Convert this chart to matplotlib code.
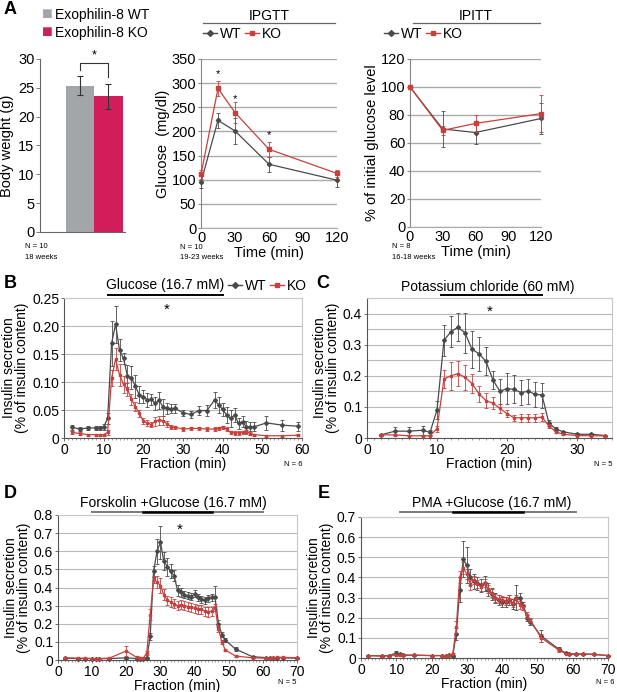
import numpy as np
import matplotlib
matplotlib.use('Agg')
import matplotlib.pyplot as plt
from matplotlib.lines import Line2D
from matplotlib.ticker import MultipleLocator

plt.rcParams['font.family'] = ['Liberation Sans', 'DejaVu Sans']

# ---------------- data ----------------
# A: body weight
bw_groups = ['Exophilin-8 WT', 'Exophilin-8 KO']
bw_mean = [25.4, 23.5]
bw_err = [1.7, 2.2]

# A: IPGTT
gtt_t = [0, 15, 30, 60, 120]
gtt_wt = [95, 223, 201, 132, 99]
gtt_wt_err = [13, 15, 26, 15, 15]
gtt_ko = [111, 289, 239, 163, 113]
gtt_ko_err = [10, 16, 22, 15, 8]
gtt_star_t = [15, 30, 60]
gtt_star_y = [318, 268, 192]

# A: IPITT
itt_t = [0, 30, 60, 120]
itt_wt = [100, 70, 67.5, 77.5]
itt_wt_err = [0, 13, 8, 11]
itt_ko = [100, 69, 74, 81]
itt_ko_err = [0, 3, 6, 13]

# B: glucose
B_x = [2, 4, 6, 8, 9, 10, 11, 12, 13, 14, 15, 16, 17, 18, 19, 20, 21, 22, 23, 24, 25,
       26, 27, 28, 30, 32, 34, 36, 38, 39, 40, 41, 42, 43, 44, 45, 46, 47, 48, 51, 55, 59]
B_wt = [0.019, 0.016, 0.018, 0.018, 0.018, 0.02, 0.035, 0.169, 0.203, 0.157, 0.142, 0.111,
        0.108, 0.092, 0.077, 0.074, 0.068, 0.069, 0.062, 0.067, 0.055, 0.053, 0.052, 0.053,
        0.045, 0.042, 0.049, 0.049, 0.068, 0.059, 0.051, 0.041, 0.035, 0.041, 0.026, 0.029,
        0.020, 0.020, 0.020, 0.027, 0.023, 0.021]
B_wt_err = [0.005, 0.004, 0.004, 0.004, 0.004, 0.005, 0.01, 0.04, 0.033, 0.02, 0.01, 0.02,
            0.02, 0.02, 0.015, 0.012, 0.012, 0.01, 0.012, 0.015, 0.015, 0.01, 0.008, 0.008,
            0.005, 0.007, 0.008, 0.01, 0.015, 0.015, 0.012, 0.015, 0.015, 0.012, 0.01, 0.01,
            0.01, 0.008, 0.008, 0.013, 0.01, 0.008]
B_ko = [0.010, 0.008, 0.006, 0.006, 0.006, 0.006, 0.010, 0.107, 0.141, 0.113, 0.096, 0.087,
        0.069, 0.056, 0.044, 0.030, 0.027, 0.024, 0.030, 0.032, 0.031, 0.025, 0.020, 0.019,
        0.016, 0.017, 0.017, 0.016, 0.016, 0.017, 0.019, 0.016, 0.010, 0.009, 0.009, 0.010,
        0.011, 0.008, 0.006, 0.004, 0.004, 0.005]
B_ko_err = [0.003, 0.002, 0.002, 0.002, 0.002, 0.002, 0.004, 0.015, 0.02, 0.02, 0.015, 0.012,
            0.01, 0.008, 0.006, 0.005, 0.005, 0.005, 0.008, 0.008, 0.008, 0.005, 0.004, 0.003,
            0.003, 0.003, 0.003, 0.003, 0.003, 0.003, 0.003, 0.003, 0.003, 0.003, 0.003, 0.003,
            0.004, 0.003, 0.002, 0.002, 0.002, 0.002]

# C: KCl
C_x = [2, 4, 6, 8, 9, 10, 11, 12, 13, 14, 15, 16, 17, 18, 19, 20, 21, 22, 23, 24, 25,
       26, 27, 28, 30, 32, 34]
C_wt = [0.01, 0.022, 0.022, 0.025, 0.018, 0.09, 0.314, 0.342, 0.356, 0.338, 0.285, 0.271,
        0.246, 0.186, 0.150, 0.159, 0.156, 0.146, 0.150, 0.141, 0.138, 0.047, 0.029, 0.020,
        0.012, 0.012, 0.008]
C_wt_err = [0.003, 0.012, 0.012, 0.015, 0.008, 0.03, 0.05, 0.05, 0.045, 0.065, 0.06, 0.055,
            0.045, 0.03, 0.04, 0.05, 0.045, 0.04, 0.04, 0.04, 0.04, 0.01, 0.006, 0.004,
            0.003, 0.003, 0.002]
C_ko = [0.01, 0.01, 0.007, 0.007, 0.007, 0.03, 0.19, 0.20, 0.207, 0.195, 0.175, 0.142,
        0.12, 0.112, 0.095, 0.078, 0.065, 0.065, 0.065, 0.065, 0.067, 0.038, 0.02, 0.012,
        0.008, 0.007, 0.007]
C_ko_err = [0.002, 0.002, 0.002, 0.002, 0.002, 0.01, 0.03, 0.045, 0.04, 0.04, 0.03, 0.025,
            0.025, 0.02, 0.015, 0.012, 0.01, 0.012, 0.012, 0.012, 0.012, 0.006, 0.004, 0.003,
            0.002, 0.002, 0.002]

# D: forskolin + glucose
D_x = [2, 6, 8, 10, 11, 12, 15, 20, 23, 24, 25, 26, 27, 28, 29, 30, 31, 32, 33, 34, 35, 36,
       37, 38, 39, 40, 41, 42, 43, 44, 45, 46, 47, 48, 49, 52, 57, 61, 62, 63, 64, 66, 70]
D_wt = [0.01, 0.008, 0.008, 0.008, 0.008, 0.008, 0.008, 0.012, 0.008, 0.006, 0.006,
        0.01, 0.13, 0.49, 0.60, 0.65, 0.545, 0.515, 0.49, 0.465, 0.385, 0.375, 0.36, 0.355,
        0.35, 0.365, 0.345, 0.335, 0.33, 0.34, 0.345, 0.345, 0.2, 0.14, 0.11,
        0.06, 0.018, 0.013, 0.012, 0.012, 0.012, 0.012, 0.01]
D_wt_err = [0.003, 0.003, 0.003, 0.003, 0.003, 0.003, 0.003, 0.005, 0.003, 0.003, 0.003,
            0.005, 0.02, 0.03, 0.07, 0.09, 0.05, 0.05, 0.04, 0.03, 0.03, 0.025, 0.02, 0.02,
            0.02, 0.02, 0.02, 0.02, 0.02, 0.02, 0.02, 0.065, 0.02, 0.015, 0.01,
            0.01, 0.004, 0.003, 0.003, 0.003, 0.003, 0.003, 0.003]
D_ko = [0.012, 0.01, 0.01, 0.008, 0.008, 0.008, 0.01, 0.05, 0.015, 0.01, 0.01,
        0.04, 0.25, 0.445, 0.43, 0.41, 0.36, 0.33, 0.32, 0.31, 0.30, 0.305, 0.30, 0.295,
        0.29, 0.285, 0.28, 0.28, 0.27, 0.265, 0.27, 0.29, 0.17, 0.10, 0.055,
        0.022, 0.012, 0.01, 0.01, 0.012, 0.015, 0.015, 0.012]
D_ko_err = [0.004, 0.003, 0.003, 0.003, 0.003, 0.003, 0.003, 0.03, 0.005, 0.004, 0.004,
            0.01, 0.03, 0.02, 0.035, 0.04, 0.03, 0.025, 0.025, 0.025, 0.025, 0.025, 0.025,
            0.025, 0.025, 0.025, 0.025, 0.025, 0.025, 0.025, 0.025, 0.02, 0.015, 0.01, 0.008,
            0.004, 0.003, 0.003, 0.003, 0.003, 0.003, 0.003, 0.003]

# E: PMA + glucose
E_x = [2, 6, 8, 10, 11, 12, 15, 20, 23, 24, 25, 26, 27, 28, 29, 30, 31, 32, 33, 34, 35, 36,
       37, 38, 39, 40, 41, 42, 43, 44, 45, 46, 47, 48, 51, 56, 58, 59, 61, 63, 66, 70]
E_wt = [0.012, 0.01, 0.012, 0.025, 0.018, 0.015, 0.014, 0.012, 0.012, 0.012, 0.014,
        0.012, 0.12, 0.34, 0.49, 0.46, 0.40, 0.38, 0.37, 0.36, 0.37, 0.34, 0.32, 0.30, 0.29,
        0.28, 0.28, 0.29, 0.27, 0.30, 0.30, 0.26, 0.20, 0.18,
        0.11, 0.045, 0.025, 0.022, 0.02, 0.02, 0.018, 0.012]
E_wt_err = [0.003, 0.003, 0.003, 0.008, 0.003, 0.003, 0.003, 0.003, 0.003, 0.003, 0.003,
            0.005, 0.03, 0.06, 0.09, 0.09, 0.04, 0.035, 0.03, 0.03, 0.035, 0.03, 0.03, 0.025,
            0.025, 0.025, 0.025, 0.025, 0.025, 0.06, 0.025, 0.02, 0.015, 0.015,
            0.03, 0.01, 0.005, 0.004, 0.004, 0.004, 0.004, 0.003]
E_ko = [0.012, 0.01, 0.012, 0.015, 0.013, 0.013, 0.014, 0.012, 0.012, 0.012, 0.014,
        0.018, 0.152, 0.404, 0.445, 0.417, 0.362, 0.387, 0.367, 0.354, 0.374, 0.341, 0.324,
        0.296, 0.291, 0.288, 0.285, 0.291, 0.275, 0.291, 0.263, 0.255, 0.213, 0.189,
        0.101, 0.04, 0.022, 0.02, 0.018, 0.02, 0.018, 0.012]
E_ko_err = [0.003, 0.003, 0.003, 0.003, 0.003, 0.003, 0.003, 0.003, 0.003, 0.003, 0.003,
            0.005, 0.03, 0.03, 0.03, 0.025, 0.025, 0.02, 0.02, 0.02, 0.02, 0.02, 0.02, 0.02,
            0.02, 0.02, 0.02, 0.02, 0.02, 0.02, 0.02, 0.015, 0.015, 0.01,
            0.02, 0.008, 0.004, 0.004, 0.004, 0.004, 0.004, 0.003]

# stimulation periods (min)
treat_B = (11, 40)
treat_C = (10.5, 25)
treat_D = [(10, 60), (25, 45)]
treat_E = [(11, 61), (26, 46)]

# ---------------- style ----------------
WT_C = '#4a4a4a'
KO_C = '#c8403c'
BAR_WT = '#a2a6a9'
BAR_KO = '#d21d5b'
GRID_C = '#b9b9b9'

W, H = 617, 692
fig = plt.figure(figsize=(W / 100, H / 100), dpi=100)


def box(l, t, r, b):
    return fig.add_axes([l / W, 1 - b / H, (r - l) / W, (b - t) / H])


def ftext(x, y, s, **kw):
    fig.text(x / W, 1 - y / H, s, **kw)


def series_legend(x, y, fs=10):
    h = [Line2D([], [], color=WT_C, marker='D', ms=3, lw=1),
         Line2D([], [], color=KO_C, marker='s', ms=3, lw=1)]
    fig.legend(h, ['WT', 'KO'], loc='center left', bbox_to_anchor=(x / W, 1 - y / H),
               ncol=2, frameon=False, fontsize=fs, handlelength=1.0, handletextpad=0.2,
               columnspacing=0.3, borderpad=0, borderaxespad=0)


def fline(x0, x1, y, **kw):
    fig.add_artist(Line2D([x0 / W, x1 / W], [1 - y / H, 1 - y / H], **kw))


def curves(ax, x, wt, wte, ko, koe, ms=2.0):
    for y, e, c, m, z in [(wt, wte, WT_C, 'D', 3), (ko, koe, KO_C, 's', 4)]:
        cont = ax.errorbar(x, y, yerr=e, color=c, marker=m, ms=ms, lw=0.9,
                           elinewidth=0.6, capsize=1.2, capthick=0.6, zorder=z)
        for art in cont.get_children():
            art.set_clip_on(False)


def secretion_axes(ax, xmax, ymax, major, minor, fmt):
    ax.set_xlim(0, xmax)
    ax.set_ylim(0, ymax)
    ax.xaxis.set_major_locator(MultipleLocator(10))
    ax.xaxis.set_minor_locator(MultipleLocator(1))
    ax.yaxis.set_major_locator(MultipleLocator(major))
    ax.yaxis.set_minor_locator(MultipleLocator(minor))
    ax.yaxis.set_major_formatter(plt.FuncFormatter(lambda v, p: '0' if v == 0 else fmt % v))
    ax.grid(True, axis='y', which='both', color=GRID_C, lw=0.8)
    ax.set_axisbelow(True)
    for s in ['top', 'right']:
        ax.spines[s].set_color('#c8c8c8')
        ax.spines[s].set_linewidth(0.8)
    for s in ['left', 'bottom']:
        ax.spines[s].set_color('#555555')
        ax.spines[s].set_linewidth(0.8)
    ax.tick_params(axis='both', which='major', labelsize=10, length=2.5, width=0.6,
                   colors='#555555', labelcolor='black', pad=1)
    ax.tick_params(axis='y', which='minor', length=0)
    ax.tick_params(axis='x', which='minor', length=1.5, width=0.5, colors='#777777')
    ax.set_ylabel('Insulin secretion\n(% of insulin content)', fontsize=10,
                  linespacing=0.95, labelpad=2)
    ax.set_xlabel('Fraction (min)', fontsize=10, labelpad=0)


# ---------------- A: body weight ----------------
ax = box(40, 59, 125, 232)
xb = np.arange(len(bw_groups))
ax.bar(xb, bw_mean, width=1.0, color=[BAR_WT, BAR_KO], yerr=bw_err,
       error_kw=dict(ecolor='#333333', elinewidth=0.8, capsize=2, capthick=0.8))
ax.set_xlim(-1.4, 1.58)
ax.set_ylim(0, 30)
ax.set_yticks(np.arange(0, 31, 5))
ax.set_xticks([])
for s in ['top', 'right']:
    ax.spines[s].set_visible(False)
for s in ['left', 'bottom']:
    ax.spines[s].set_color('#666666')
    ax.spines[s].set_linewidth(0.8)
ax.tick_params(axis='y', labelsize=10.5, length=3, width=0.6, colors='#666666',
               labelcolor='black', pad=1)
ax.set_ylabel('Body weight (g)', fontsize=10.5, labelpad=3)
ax.plot([0, 0, 1, 1], [28.1, 29.25, 29.25, 26.9], color='#333333', lw=0.8, clip_on=False)
ax.text(0.5, 30.6, '*', ha='center', va='center', fontsize=9)
for i, g in enumerate(bw_groups):
    ftext(42, 15 + 18 * i, '\u25A0', fontsize=13, va='center',
          color=[BAR_WT, BAR_KO][i])
    ftext(55, 15 + 18 * i, g, fontsize=10, va='center')
ftext(25, 246, 'N = 10', fontsize=5.5, va='center')
ftext(25, 258, '18 weeks', fontsize=5.5, va='center')


def tolerance_axes(ax, ymax, ystep):
    ax.set_xlim(0, 120)
    ax.set_ylim(0, ymax)
    ax.set_xticks([0, 30, 60, 90, 120])
    ax.set_yticks(np.arange(0, ymax + 1, ystep))
    ax.grid(True, axis='y', color='#aaaaaa', lw=1.0)
    ax.set_axisbelow(True)
    for s in ['top', 'right']:
        ax.spines[s].set_visible(False)
    ax.spines['left'].set_color('#888888')
    ax.spines['bottom'].set_color('#aaaaaa')
    ax.tick_params(axis='y', labelsize=10.5, length=2.5, colors='#888888',
                   labelcolor='black', pad=1)
    ax.tick_params(axis='x', labelsize=10.5, length=0, pad=2)
    ax.set_xlabel('Time (min)', fontsize=10.5, labelpad=1)


# ---------------- A: IPGTT ----------------
ax = box(201, 59, 337, 228)
tolerance_axes(ax, 350, 50)
curves(ax, gtt_t, gtt_wt, gtt_wt_err, gtt_ko, gtt_ko_err, ms=2.2)
for t, y in zip(gtt_star_t, gtt_star_y):
    ax.text(t, y, '*', ha='center', va='center', fontsize=8)
ax.set_ylabel('Glucose  (mg/dl)', fontsize=10.5, labelpad=1)
ftext(269, 16, 'IPGTT', fontsize=10, ha='center', va='center')
fline(203, 335, 23, color='#666666', lw=0.9)
series_legend(203, 34)
ftext(180, 248, 'N = 10', fontsize=5.5, va='center')
ftext(180, 258, '19-23 weeks', fontsize=5.5, va='center')

# ---------------- A: IPITT ----------------
ax = box(410, 59, 541, 227)
tolerance_axes(ax, 120, 20)
curves(ax, itt_t, itt_wt, itt_wt_err, itt_ko, itt_ko_err, ms=2.2)
ax.set_ylabel('% of initial glucose level', fontsize=10.5, labelpad=1)
ftext(476, 16, 'IPITT', fontsize=10, ha='center', va='center')
fline(413, 540, 23, color='#666666', lw=0.9)
series_legend(384, 34)
ftext(392, 247, 'N = 8', fontsize=5.5, va='center')
ftext(392, 258, '16-18 weeks', fontsize=5.5, va='center')

# ---------------- B ----------------
ax = box(64, 298, 302, 438)
secretion_axes(ax, 60, 0.25, 0.05, 0.05, '%.2f')
curves(ax, B_x, B_wt, B_wt_err, B_ko, B_ko_err)
tr = ax.get_xaxis_transform()
ax.plot(treat_B, [1.02, 1.02], color='black', lw=1.4, transform=tr, clip_on=False)
ax.text(25.6, 1.09, 'Glucose (16.7 mM)', transform=tr, ha='center', va='center', fontsize=10)
ax.text(26, 0.915, '*', transform=tr, ha='center', va='center', fontsize=11)
series_legend(228, 286)
ftext(302, 464, 'N = 6', fontsize=5.5, va='center', ha='right')

# ---------------- C ----------------
ax = box(367, 298, 612, 438)
secretion_axes(ax, 35, 0.45, 0.1, 0.05, '%.1f')
curves(ax, C_x, C_wt, C_wt_err, C_ko, C_ko_err)
tr = ax.get_xaxis_transform()
ax.plot(treat_C, [1.02, 1.02], color='black', lw=1.4, transform=tr, clip_on=False)
ax.text(17.2, 1.08, 'Potassium chloride (60 mM)', transform=tr, ha='center', va='center',
        fontsize=10)
ax.text(17.6, 0.905, '*', transform=tr, ha='center', va='center', fontsize=11)
ftext(612, 464, 'N = 5', fontsize=5.5, va='center', ha='right')

# ---------------- D ----------------
ax = box(58, 515, 297, 660)
secretion_axes(ax, 70, 0.8, 0.1, 0.1, '%.1f')
curves(ax, D_x, D_wt, D_wt_err, D_ko, D_ko_err)
tr = ax.get_xaxis_transform()
ax.plot(treat_D[0], [1.02, 1.02], color='#7a7a7a', lw=1.4, transform=tr, clip_on=False)
ax.plot(treat_D[1], [1.02, 1.02], color='black', lw=1.8, transform=tr, clip_on=False)
ax.text(33.7, 1.085, 'Forskolin +Glucose (16.7 mM)', transform=tr, ha='center',
        va='center', fontsize=10)
ax.text(35.7, 0.895, '*', transform=tr, ha='center', va='center', fontsize=11)
ftext(297, 682, 'N = 5', fontsize=5.5, va='center', ha='right')

# ---------------- E ----------------
ax = box(361, 517, 608, 658)
secretion_axes(ax, 70, 0.7, 0.1, 0.1, '%.1f')
curves(ax, E_x, E_wt, E_wt_err, E_ko, E_ko_err)
tr = ax.get_xaxis_transform()
ax.plot(treat_E[0], [1.035, 1.035], color='#7a7a7a', lw=1.4, transform=tr, clip_on=False)
ax.plot(treat_E[1], [1.035, 1.035], color='black', lw=1.8, transform=tr, clip_on=False)
ax.text(36.9, 1.1, 'PMA +Glucose (16.7 mM)', transform=tr, ha='center', va='center',
        fontsize=10)
ftext(614, 682, 'N = 6', fontsize=5.5, va='center', ha='right')

# panel letters
for lab, x, y in [('A', 4, 10), ('B', 4, 283), ('C', 316, 284), ('D', 4, 494), ('E', 318, 494)]:
    ftext(x, y, lab, fontsize=13, fontweight='bold', va='center')

fig.savefig('out.png', dpi=100)
